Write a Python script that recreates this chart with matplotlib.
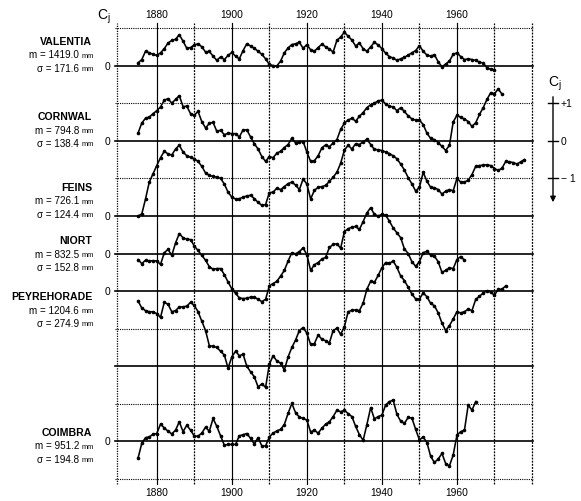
import matplotlib
matplotlib.use("Agg")
import matplotlib.pyplot as plt

plt.rcParams['font.family'] = ['Liberation Sans', 'DejaVu Sans']
plt.rcParams['mathtext.fontset'] = 'custom'
plt.rcParams['mathtext.rm'] = 'Liberation Sans'
plt.rcParams['mathtext.it'] = 'Liberation Sans'

# ---------------- data (Cj per year) ----------------
stations = ["VALENTIA", "CORNWAL", "FEINS", "NIORT", "PEYREHORADE", "COIMBRA"]
means = ["1419.0", "794.8", "726.1", "832.5", "1204.6", "951.2"]
sigmas = ["171.6", "138.4", "124.4", "152.8", "274.9", "194.8"]
year_ticks = [1880, 1900, 1920, 1940, 1960]

valentia_start = 1875
valentia = [0.07, 0.16, 0.38, 0.34, 0.30, 0.27, 0.34, 0.45, 0.60, 0.67,
            0.70, 0.82, 0.65, 0.46, 0.48, 0.55, 0.58, 0.50, 0.36, 0.38,
            0.25, 0.14, 0.23, 0.16, 0.27, 0.35, 0.25, 0.18, 0.40, 0.58,
            0.52, 0.46, 0.38, 0.30, 0.18, 0.03, 0.00, -0.01, 0.12, 0.34,
            0.47, 0.56, 0.58, 0.62, 0.46, 0.56, 0.42, 0.38, 0.48, 0.57,
            0.50, 0.44, 0.36, 0.67, 0.76, 0.89, 0.78, 0.68, 0.52, 0.60,
            0.45, 0.38, 0.50, 0.62, 0.55, 0.45, 0.33, 0.24, 0.20, 0.14,
            0.18, 0.22, 0.28, 0.34, 0.40, 0.53, 0.38, 0.28, 0.25, 0.29,
            0.10, -0.03, 0.04, 0.12, 0.30, 0.34, 0.24, 0.16, 0.18, 0.16,
            0.14, 0.09, 0.07, -0.06, -0.10, -0.11]

cornwal_start = 1875
cornwal = [0.20, 0.47, 0.60, 0.63, 0.72, 0.80, 0.90, 1.08, 1.12, 1.00,
           1.10, 1.20, 0.91, 0.92, 0.72, 0.68, 0.78, 0.51, 0.34, 0.46,
           0.49, 0.25, 0.28, 0.16, 0.20, 0.19, 0.19, 0.10, 0.29, 0.29,
           0.10, -0.08, -0.22, -0.42, -0.55, -0.42, -0.45, -0.33, -0.28, -0.18,
           -0.10, 0.07, -0.06, -0.03, -0.02, -0.30, -0.55, -0.53, -0.40, -0.19,
           -0.11, -0.16, -0.06, 0.03, 0.30, 0.47, 0.55, 0.60, 0.52, 0.65,
           0.75, 0.88, 0.96, 1.00, 1.06, 1.08, 0.98, 0.92, 0.90, 0.80,
           0.88, 0.78, 0.66, 0.58, 0.55, 0.55, 0.43, 0.20, 0.06, 0.03,
           -0.05, -0.15, -0.26, -0.12, 0.50, 0.68, 0.62, 0.58, 0.51, 0.38,
           0.48, 0.70, 0.88, 1.10, 1.28, 1.25, 1.38, 1.24]

feins_start = 1875
feins = [0.00, 0.05, 0.45, 0.90, 1.12, 1.34, 1.55, 1.72, 1.65, 1.62,
         1.78, 1.88, 1.70, 1.60, 1.56, 1.52, 1.45, 1.32, 1.14, 1.08,
         1.05, 1.03, 1.00, 0.85, 0.63, 0.50, 0.45, 0.46, 0.50, 0.53,
         0.55, 0.46, 0.36, 0.28, 0.30, 0.62, 0.63, 0.74, 0.70, 0.78,
         0.86, 0.90, 0.82, 0.70, 0.98, 0.85, 0.45, 0.68, 0.76, 0.78,
         0.81, 0.92, 1.03, 1.16, 1.40, 1.75, 1.88, 1.78, 1.92, 1.90,
         1.97, 2.04, 1.90, 1.77, 1.76, 1.74, 1.70, 1.66, 1.60, 1.52,
         1.38, 1.22, 1.02, 0.85, 0.66, 0.76, 1.16, 0.92, 0.76, 0.75,
         0.70, 0.58, 0.66, 0.70, 0.67, 1.00, 0.90, 0.90, 0.95, 1.10,
         1.32, 1.34, 1.35, 1.36, 1.34, 1.26, 1.21, 1.27, 1.45, 1.44,
         1.42, 1.38, 1.44, 1.50]

niort_start = 1875
niort = [-0.16, -0.27, -0.18, -0.20, -0.19, -0.20, -0.29, 0.02, 0.11, -0.05,
         0.28, 0.53, 0.42, 0.38, 0.37, 0.20, 0.08, -0.05, -0.18, -0.35,
         -0.42, -0.40, -0.40, -0.56, -0.76, -0.94, -1.06, -1.18, -1.20, -1.19,
         -1.16, -1.16, -1.22, -1.28, -1.22, -0.86, -0.80, -0.74, -0.60, -0.45,
         -0.20, 0.02, -0.01, 0.05, 0.15, -0.03, -0.45, -0.30, -0.24, -0.15,
         -0.10, 0.16, 0.24, 0.26, 0.14, 0.58, 0.66, 0.70, 0.72, 0.64,
         0.85, 1.08, 1.22, 1.04, 1.00, 1.04, 1.02, 0.86, 0.68, 0.55,
         0.42, 0.12, 0.00, -0.22, -0.34, -0.22, 0.02, 0.06, -0.04, -0.07,
         -0.22, -0.50, -0.45, -0.38, -0.40, -0.16, -0.08, -0.18]

peyrehorade_start = 1875
peyrehorade = [-0.26, -0.45, -0.52, -0.55, -0.55, -0.60, -0.70, -0.30, -0.35, -0.55,
               -0.52, -0.42, -0.42, -0.40, -0.30, -0.38, -0.55, -0.80, -1.05, -1.45,
               -1.47, -1.50, -1.60, -1.70, -2.05, -1.75, -1.60, -1.72, -1.68, -2.00,
               -2.15, -2.28, -2.55, -2.47, -2.56, -1.95, -1.72, -1.86, -1.92, -2.10,
               -1.75, -1.50, -1.30, -1.05, -0.97, -1.12, -1.42, -1.40, -1.17, -1.28,
               -1.32, -1.38, -1.05, -0.99, -1.15, -0.95, -0.55, -0.51, -0.50, -0.52,
               -0.32, 0.05, 0.26, 0.23, 0.42, 0.62, 0.76, 0.74, 0.80, 0.63,
               0.40, 0.28, 0.10, -0.08, -0.21, -0.21, -0.05, -0.15, -0.33, -0.39,
               -0.58, -0.85, -1.05, -0.92, -0.74, -0.55, -0.58, -0.55, -0.48, -0.52,
               -0.22, -0.14, -0.05, 0.01, -0.03, -0.11, 0.05, 0.05, 0.14]

coimbra_start = 1875
coimbra = [-0.45, -0.05, 0.10, 0.12, 0.19, 0.21, 0.46, 0.36, 0.27, 0.20,
           0.30, 0.52, 0.26, 0.43, 0.30, 0.14, 0.14, 0.22, 0.38, 0.27,
           0.61, 0.40, 0.15, -0.10, -0.08, -0.08, -0.08, 0.15, 0.18, 0.21,
           0.08, -0.07, 0.10, -0.12, -0.12, 0.12, 0.22, 0.28, 0.32, 0.45,
           0.75, 1.01, 0.76, 0.65, 0.61, 0.57, 0.25, 0.30, 0.22, 0.35,
           0.46, 0.52, 0.66, 0.83, 0.79, 0.83, 0.74, 0.66, 0.40, 0.18,
           0.03, 0.45, 0.90, 0.60, 0.66, 0.70, 0.97, 1.06, 1.10, 0.72,
           0.54, 0.48, 0.64, 0.62, 0.32, 0.04, 0.12, -0.03, -0.40, -0.56,
           -0.47, -0.32, -0.59, -0.65, -0.36, 0.17, 0.26, 0.30, 0.97, 0.83,
           1.06]

series = [(valentia_start, valentia), (cornwal_start, cornwal),
          (feins_start, feins), (niort_start, niort),
          (peyrehorade_start, peyrehorade), (coimbra_start, coimbra)]

# ---------------- layout ----------------
W, H = 581, 502
fig = plt.figure(figsize=(W / 100, H / 100), dpi=100)
fig.patch.set_facecolor("white")

L, R, T, B = 117, 532, 29, 480          # frame in pixels
ax = fig.add_axes([L / W, 1 - B / H, (R - L) / W, (B - T) / H])
X0, X1 = 1869.4, 1980.0
ax.set_xlim(X0, X1)
ax.set_ylim(0, 12)
ax.axis("off")

zero_rows = [11, 9, 7, 6, 5, 1]          # baseline of each station on the grid
solid_rows = set(zero_rows) | {3}


def pxt(x, y, s, **kw):
    fig.text(x / W, 1 - y / H, s, **kw)


def ypx(level):
    return B - level * (B - T) / 12


# grid
for lev in range(13):
    if lev in solid_rows:
        ax.plot([X0 - 0.6, X1 + 0.3], [lev, lev], color="black", lw=1.2,
                clip_on=False, zorder=1)
    else:
        ax.plot([X0 - 0.6, X1 + 0.3], [lev, lev], color="black", lw=0.8,
                ls=(0, (1, 1)), clip_on=False, zorder=1)

for yr in range(1880, 1981, 10):
    if yr % 20 == 0 and yr < 1980:
        ax.plot([yr, yr], [-0.13, 12.12], color="black", lw=0.85,
                clip_on=False, zorder=1)
    else:
        ax.plot([yr, yr], [-0.13, 12.12], color="black", lw=0.9,
                ls=(0, (1.5, 1)), clip_on=False, zorder=1)
ax.plot([X0, X0], [-0.13, 12.12], color="black", lw=0.9,
        ls=(0, (1, 1)), clip_on=False, zorder=1)

# curves
for (start, vals), base in zip(series, zero_rows):
    yrs = list(range(start, start + len(vals)))
    ax.plot(yrs, [base + v for v in vals], color="black", lw=1.15,
            marker="o", ms=1.6, zorder=3)

# year labels top and bottom
for yr in year_ticks:
    ax.text(yr, 12.36, str(yr), ha="center", va="center", fontsize=7.4)
    ax.text(yr, -0.34, str(yr), ha="center", va="center", fontsize=7.4)

# station labels
name_y = [42, 117, 188, 241, 297, 433]
for name, m, s, ny, base in zip(stations, means, sigmas, name_y, zero_rows):
    pxt(92, ny, name, ha="right", va="center", fontsize=7.6, fontweight="bold")
    pxt(79, ny + 13.5, "m = " + m, ha="right", va="center", fontsize=7.1)
    pxt(82, ny + 14.2, "mm", ha="left", va="center", fontsize=5.4)
    pxt(79, ny + 27, "\u03c3 = " + s, ha="right", va="center", fontsize=7.1)
    pxt(82, ny + 27.7, "mm", ha="left", va="center", fontsize=5.4)
    pxt(110, ypx(base), "0", ha="right", va="center", fontsize=7.5)

# Cj label top-left
pxt(104, 17, r"$\mathregular{C_j}$", ha="center", va="center", fontsize=10)

# Cj scale on the right
ax_x = 553
pxt(ax_x + 2, 84, r"$\mathregular{C_j}$", ha="center", va="center", fontsize=10)
fig.add_artist(matplotlib.patches.FancyArrowPatch(
    (ax_x / W, 1 - 95 / H), (ax_x / W, 1 - 206 / H),
    transform=fig.transFigure, arrowstyle="-|>", mutation_scale=8,
    color="black", lw=1.0))
for lev, lab in [(10, "+1"), (9, "0"), (8, "\u2212 1")]:
    yy = ypx(lev)
    fig.add_artist(plt.Line2D([(ax_x - 5) / W, (ax_x + 5) / W],
                              [1 - yy / H, 1 - yy / H], color="black", lw=1.0))
    pxt(ax_x + 8, yy, lab, ha="left", va="center", fontsize=7.5)

fig.savefig("out.png", dpi=100, facecolor="white")
